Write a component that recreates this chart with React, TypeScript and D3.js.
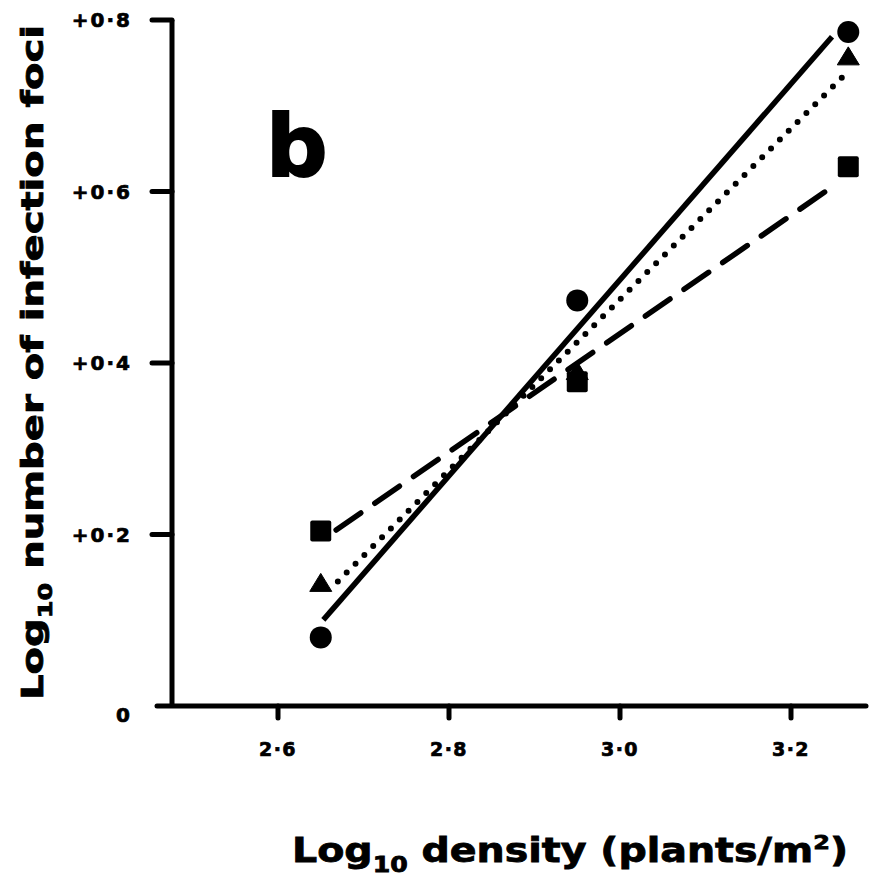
import React from "react";
import * as d3 from "d3";

const xTicks = [2.6, 2.8, 3.0, 3.2];
const xTickLabels = ["2·6", "2·8", "3·0", "3·2"];
const yTicks = [0, 0.2, 0.4, 0.6, 0.8];
const yTickLabels = ["0", "+0·2", "+0·4", "+0·6", "+0·8"];

const densities = [2.65, 2.95, 3.267];
const circleVals = [0.08, 0.473, 0.786];
const triangleVals = [0.143, 0.39, 0.757];
const squareVals = [0.204, 0.378, 0.629];

// x extent of each fitted regression line
const circleFitRange = [2.653, 3.248];
const triangleFitRange = [2.67, 3.267];
const squareFitRange = [2.668, 3.246];

function fit(xs: number[], ys: number[]) {
  const mx = d3.mean(xs)!;
  const my = d3.mean(ys)!;
  let sxy = 0, sxx = 0;
  xs.forEach((x, i) => { sxy += (x - mx) * (ys[i] - my); sxx += (x - mx) * (x - mx); });
  const b = sxy / sxx;
  return (x: number) => my + b * (x - mx);
}

export default function App() {
  const W = 895, H = 884;
  const x = d3.scaleLinear().domain([2.6, 3.2]).range([278, 791]);
  const y = d3.scaleLinear().domain([0, 0.8]).range([706, 20]);
  const axisX = 172;
  const font = "'DejaVu Sans', sans-serif";
  const line = d3.line<[number, number]>().x(d => x(d[0])).y(d => y(d[1]));

  const series = [
    { vals: circleVals, range: circleFitRange, dash: undefined as string | undefined, cap: "butt", width: 5.5 },
    { vals: triangleVals, range: triangleFitRange, dash: "0 12.5", cap: "round", width: 6 },
    { vals: squareVals, range: squareFitRange, dash: "30 17", cap: "round", width: 5.5 },
  ];

  return (
    <svg width={W} height={H} style={{ position: "absolute", left: 0, top: 0, background: "#fff" }}>
      <rect width={W} height={H} fill="#fff" />
      {/* axes */}
      <line x1={axisX} y1={y(0.8)} x2={axisX} y2={y(0) + 2} stroke="#000" strokeWidth={5} />
      <line x1={157} y1={y(0)} x2={866} y2={y(0)} stroke="#000" strokeWidth={5} strokeLinecap="round" />
      {yTicks.map((t, i) => (
        <g key={"y" + i}>
          {t > 0 && <line x1={152} y1={y(t)} x2={axisX} y2={y(t)} stroke="#000" strokeWidth={5} strokeLinecap="round" />}
          <text x={132} y={y(t) + (t === 0 ? 9 : 0)} dy="0.36em" textAnchor="end" fontFamily={font} fontWeight="bold" fontSize={20} letterSpacing={2} stroke="#000" strokeWidth={0.7}>{yTickLabels[i]}</text>
        </g>
      ))}
      {xTicks.map((t, i) => (
        <g key={"x" + i}>
          <line x1={x(t)} y1={y(0)} x2={x(t)} y2={y(0) + 12} stroke="#000" strokeWidth={5} strokeLinecap="round" />
          <text x={x(t)} y={756} textAnchor="middle" fontFamily={font} fontWeight="bold" fontSize={19} letterSpacing={1.5} stroke="#000" strokeWidth={0.7}>{xTickLabels[i]}</text>
        </g>
      ))}
      {/* regression lines */}
      {series.map((s, i) => {
        const f = fit(densities, s.vals);
        const pts: [number, number][] = [[s.range[0], f(s.range[0])], [s.range[1], f(s.range[1])]];
        return <path key={"l" + i} d={line(pts)!} fill="none" stroke="#000" strokeWidth={s.width}
          strokeDasharray={s.dash} strokeLinecap={s.cap as any} />;
      })}
      {/* markers */}
      {densities.map((d, i) => (
        <circle key={"c" + i} cx={x(d)} cy={y(circleVals[i])} r={11} fill="#000" />
      ))}
      {densities.map((d, i) => {
        const cx = x(d), cy = y(triangleVals[i]);
        return <path key={"t" + i} d={`M${cx},${cy - 10}L${cx + 11},${cy + 8}L${cx - 11},${cy + 8}Z`} fill="#000" strokeLinejoin="round" stroke="#000" strokeWidth={1} />;
      })}
      {densities.map((d, i) => (
        <rect key={"s" + i} x={x(d) - 10.5} y={y(squareVals[i]) - 10.5} width={21} height={21} rx={2} fill="#000" />
      ))}
      {/* panel letter */}
      <text x={266} y={176} fontFamily={font} fontWeight="bold" fontSize={86} stroke="#000" strokeWidth={2}>b</text>
      {/* axis titles */}
      <text x={292} y={862} fontFamily={font} fontWeight="bold" fontSize={33} textLength={556} lengthAdjust="spacingAndGlyphs" stroke="#000" strokeWidth={0.8}>
        Log<tspan fontSize={21} dy={10}>10</tspan><tspan dy={-10}> density (plants/m</tspan><tspan fontSize={20} dy={-13}>2</tspan><tspan dy={13}>)</tspan>
      </text>
      <text transform="translate(43,700) rotate(-90)" fontFamily={font} fontWeight="bold" fontSize={30} textLength={675} lengthAdjust="spacingAndGlyphs" stroke="#000" strokeWidth={0.8}>
        Log<tspan fontSize={19} dy={9}>10</tspan><tspan dy={-9}> number of infection foci</tspan>
      </text>
    </svg>
  );
}
